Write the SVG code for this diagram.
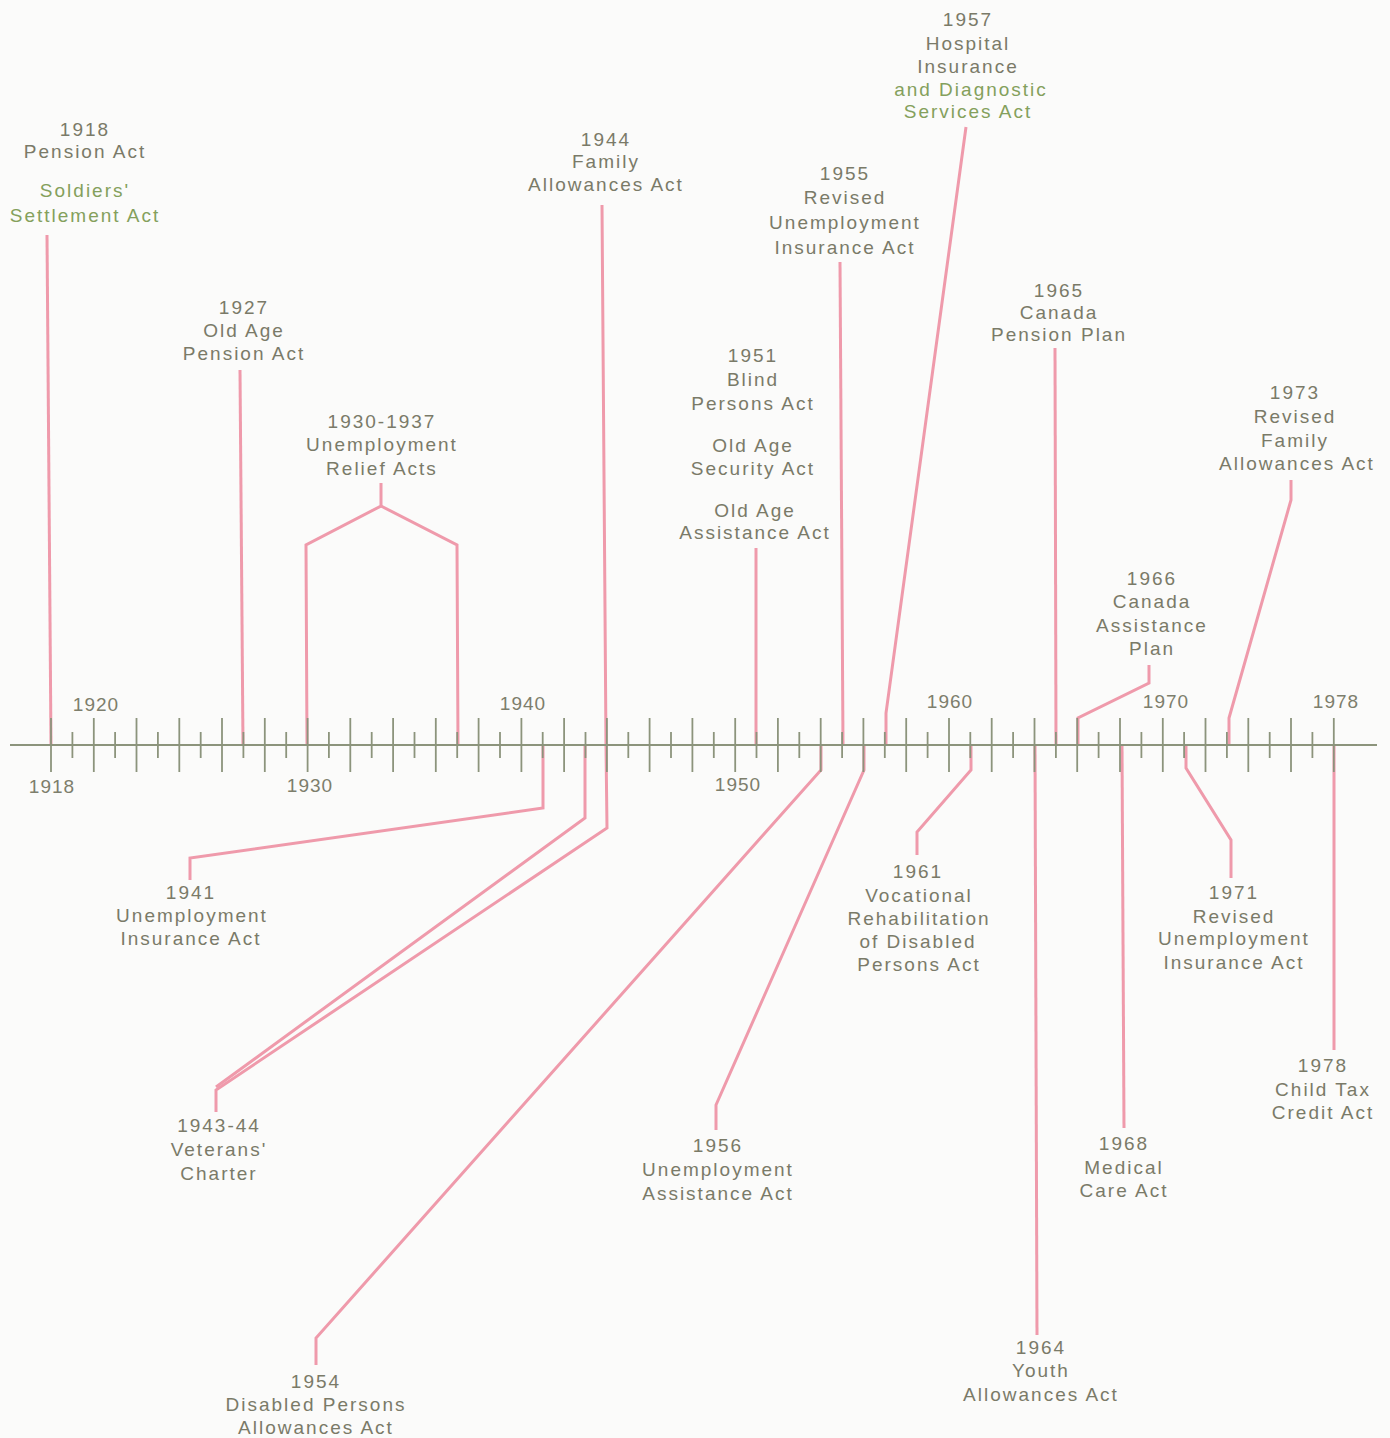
<svg xmlns="http://www.w3.org/2000/svg" width="1390" height="1438" viewBox="0 0 1390 1438">
  <style>
    .t { font-family: "Liberation Sans", Arial, sans-serif; font-size: 19px; letter-spacing: 2px; fill: #7a7a68; text-anchor: middle; }
    .g { fill: #84a05c; }
    .yr { font-family: "Liberation Sans", Arial, sans-serif; font-size: 19px; letter-spacing: 1px; fill: #7d7e6c; text-anchor: middle; }
    .c { fill: none; stroke: #ef9aab; stroke-width: 3; stroke-linejoin: miter; }
    .ax { stroke: #8c947c; stroke-width: 2.2; }
    .tk { stroke: #8c947c; stroke-width: 1.8; }
  </style>
  <rect width="1390" height="1438" fill="#fbfbfa"/>

  <!-- connectors from each act to its year -->
  <g id="connectors">
    <polyline class="c" points="47,235 51,745"/>
    <polyline class="c" points="240,370 243,745"/>
    <polyline class="c" points="381,483 381,506 306,545 307,745"/>
    <polyline class="c" points="381,506 457,545 458,745"/>
    <polyline class="c" points="602,205 606,745 607,828 216,1090 216,1112"/>
    <polyline class="c" points="585,745 585,818 216,1087"/>
    <polyline class="c" points="543,745 543,808 190,858 190,880"/>
    <polyline class="c" points="756,548 756,745"/>
    <polyline class="c" points="840,262 843,745"/>
    <polyline class="c" points="966,127 886,713 886,745"/>
    <polyline class="c" points="821,745 821,770 316,1338 316,1365"/>
    <polyline class="c" points="864,745 864,770 716,1105 716,1130"/>
    <polyline class="c" points="971,745 971,770 917,832 917,855"/>
    <polyline class="c" points="1035,745 1037,1335"/>
    <polyline class="c" points="1055,348 1056,745"/>
    <polyline class="c" points="1149,665 1149,683 1078,718 1078,745"/>
    <polyline class="c" points="1122,745 1124,1128"/>
    <polyline class="c" points="1186,745 1186,768 1231,840 1231,878"/>
    <polyline class="c" points="1291,480 1291,500 1229,718 1229,745"/>
    <polyline class="c" points="1334,745 1334,1050"/>
  </g>

  <!-- time axis with yearly ticks -->
  <g id="axis">
    <line class="ax" x1="10" y1="745" x2="1377" y2="745"/>
    <g id="ticks">
      <line class="tk" x1="51" y1="718" x2="51" y2="772"/>
      <line class="tk" x1="72.4" y1="732" x2="72.4" y2="758"/>
      <line class="tk" x1="93.8" y1="718" x2="93.8" y2="772"/>
      <line class="tk" x1="115.1" y1="732" x2="115.1" y2="758"/>
      <line class="tk" x1="136.5" y1="718" x2="136.5" y2="772"/>
      <line class="tk" x1="157.9" y1="732" x2="157.9" y2="758"/>
      <line class="tk" x1="179.3" y1="718" x2="179.3" y2="772"/>
      <line class="tk" x1="200.7" y1="732" x2="200.7" y2="758"/>
      <line class="tk" x1="222" y1="718" x2="222" y2="772"/>
      <line class="tk" x1="243.4" y1="732" x2="243.4" y2="758"/>
      <line class="tk" x1="264.8" y1="718" x2="264.8" y2="772"/>
      <line class="tk" x1="286.2" y1="732" x2="286.2" y2="758"/>
      <line class="tk" x1="307.6" y1="718" x2="307.6" y2="772"/>
      <line class="tk" x1="328.9" y1="732" x2="328.9" y2="758"/>
      <line class="tk" x1="350.3" y1="718" x2="350.3" y2="772"/>
      <line class="tk" x1="371.7" y1="732" x2="371.7" y2="758"/>
      <line class="tk" x1="393.1" y1="718" x2="393.1" y2="772"/>
      <line class="tk" x1="414.5" y1="732" x2="414.5" y2="758"/>
      <line class="tk" x1="435.8" y1="718" x2="435.8" y2="772"/>
      <line class="tk" x1="457.2" y1="732" x2="457.2" y2="758"/>
      <line class="tk" x1="478.6" y1="718" x2="478.6" y2="772"/>
      <line class="tk" x1="500" y1="732" x2="500" y2="758"/>
      <line class="tk" x1="521.4" y1="718" x2="521.4" y2="772"/>
      <line class="tk" x1="542.7" y1="732" x2="542.7" y2="758"/>
      <line class="tk" x1="564.1" y1="718" x2="564.1" y2="772"/>
      <line class="tk" x1="585.5" y1="732" x2="585.5" y2="758"/>
      <line class="tk" x1="606.9" y1="718" x2="606.9" y2="772"/>
      <line class="tk" x1="628.3" y1="732" x2="628.3" y2="758"/>
      <line class="tk" x1="649.6" y1="718" x2="649.6" y2="772"/>
      <line class="tk" x1="671" y1="732" x2="671" y2="758"/>
      <line class="tk" x1="692.4" y1="718" x2="692.4" y2="772"/>
      <line class="tk" x1="713.8" y1="732" x2="713.8" y2="758"/>
      <line class="tk" x1="735.2" y1="718" x2="735.2" y2="772"/>
      <line class="tk" x1="756.5" y1="732" x2="756.5" y2="758"/>
      <line class="tk" x1="777.9" y1="718" x2="777.9" y2="772"/>
      <line class="tk" x1="799.3" y1="732" x2="799.3" y2="758"/>
      <line class="tk" x1="820.7" y1="718" x2="820.7" y2="772"/>
      <line class="tk" x1="842.1" y1="732" x2="842.1" y2="758"/>
      <line class="tk" x1="863.4" y1="718" x2="863.4" y2="772"/>
      <line class="tk" x1="884.8" y1="732" x2="884.8" y2="758"/>
      <line class="tk" x1="906.2" y1="718" x2="906.2" y2="772"/>
      <line class="tk" x1="927.6" y1="732" x2="927.6" y2="758"/>
      <line class="tk" x1="949" y1="718" x2="949" y2="772"/>
      <line class="tk" x1="970.3" y1="732" x2="970.3" y2="758"/>
      <line class="tk" x1="991.7" y1="718" x2="991.7" y2="772"/>
      <line class="tk" x1="1013.1" y1="732" x2="1013.1" y2="758"/>
      <line class="tk" x1="1034.5" y1="718" x2="1034.5" y2="772"/>
      <line class="tk" x1="1055.9" y1="732" x2="1055.9" y2="758"/>
      <line class="tk" x1="1077.2" y1="718" x2="1077.2" y2="772"/>
      <line class="tk" x1="1098.6" y1="732" x2="1098.6" y2="758"/>
      <line class="tk" x1="1120" y1="718" x2="1120" y2="772"/>
      <line class="tk" x1="1141.4" y1="732" x2="1141.4" y2="758"/>
      <line class="tk" x1="1162.8" y1="718" x2="1162.8" y2="772"/>
      <line class="tk" x1="1184.1" y1="732" x2="1184.1" y2="758"/>
      <line class="tk" x1="1205.5" y1="718" x2="1205.5" y2="772"/>
      <line class="tk" x1="1226.9" y1="732" x2="1226.9" y2="758"/>
      <line class="tk" x1="1248.3" y1="718" x2="1248.3" y2="772"/>
      <line class="tk" x1="1269.7" y1="732" x2="1269.7" y2="758"/>
      <line class="tk" x1="1291" y1="718" x2="1291" y2="772"/>
      <line class="tk" x1="1312.4" y1="732" x2="1312.4" y2="758"/>
      <line class="tk" x1="1333.8" y1="718" x2="1333.8" y2="772"/>
    </g>
    <text class="yr" x="96" y="711">1920</text>
    <text class="yr" x="523" y="710">1940</text>
    <text class="yr" x="950" y="708">1960</text>
    <text class="yr" x="1166" y="708">1970</text>
    <text class="yr" x="1336" y="708">1978</text>
    <text class="yr" x="52" y="793">1918</text>
    <text class="yr" x="310" y="792">1930</text>
    <text class="yr" x="738" y="791">1950</text>
  </g>

  <!-- acts above the axis -->
  <g id="n1918">
    <text class="t" x="85" y="136">1918</text>
    <text class="t" x="85" y="158">Pension Act</text>
    <text class="t g" x="85" y="197">Soldiers'</text>
    <text class="t g" x="85" y="222">Settlement Act</text>
  </g>
  <g id="n1927">
    <text class="t" x="244" y="314">1927</text>
    <text class="t" x="244" y="337">Old Age</text>
    <text class="t" x="244" y="360">Pension Act</text>
  </g>
  <g id="n1930">
    <text class="t" x="382" y="428">1930-1937</text>
    <text class="t" x="382" y="451">Unemployment</text>
    <text class="t" x="382" y="475">Relief Acts</text>
  </g>
  <g id="n1944">
    <text class="t" x="606" y="146">1944</text>
    <text class="t" x="606" y="168">Family</text>
    <text class="t" x="606" y="191">Allowances Act</text>
  </g>
  <g id="n1951">
    <text class="t" x="753" y="362">1951</text>
    <text class="t" x="753" y="386">Blind</text>
    <text class="t" x="753" y="410">Persons Act</text>
    <text class="t" x="753" y="452">Old Age</text>
    <text class="t" x="753" y="475">Security Act</text>
    <text class="t" x="755" y="517">Old Age</text>
    <text class="t" x="755" y="539">Assistance Act</text>
  </g>
  <g id="n1955">
    <text class="t" x="845" y="180">1955</text>
    <text class="t" x="845" y="204">Revised</text>
    <text class="t" x="845" y="229">Unemployment</text>
    <text class="t" x="845" y="254">Insurance Act</text>
  </g>
  <g id="n1957">
    <text class="t" x="968" y="26">1957</text>
    <text class="t" x="968" y="50">Hospital</text>
    <text class="t" x="968" y="73">Insurance</text>
    <text class="t g" x="971" y="96">and Diagnostic</text>
    <text class="t g" x="968" y="118">Services Act</text>
  </g>
  <g id="n1965">
    <text class="t" x="1059" y="297">1965</text>
    <text class="t" x="1059" y="319">Canada</text>
    <text class="t" x="1059" y="341">Pension Plan</text>
  </g>
  <g id="n1966">
    <text class="t" x="1152" y="585">1966</text>
    <text class="t" x="1152" y="608">Canada</text>
    <text class="t" x="1152" y="632">Assistance</text>
    <text class="t" x="1152" y="655">Plan</text>
  </g>
  <g id="n1973">
    <text class="t" x="1295" y="399">1973</text>
    <text class="t" x="1295" y="423">Revised</text>
    <text class="t" x="1295" y="447">Family</text>
    <text class="t" x="1297" y="470">Allowances Act</text>
  </g>

  <!-- acts below the axis -->
  <g id="n1941">
    <text class="t" x="191" y="899">1941</text>
    <text class="t" x="192" y="922">Unemployment</text>
    <text class="t" x="191" y="945">Insurance Act</text>
  </g>
  <g id="n1943">
    <text class="t" x="219" y="1132">1943-44</text>
    <text class="t" x="219" y="1156">Veterans'</text>
    <text class="t" x="219" y="1180">Charter</text>
  </g>
  <g id="n1954">
    <text class="t" x="316" y="1388">1954</text>
    <text class="t" x="316" y="1411">Disabled Persons</text>
    <text class="t" x="316" y="1434">Allowances Act</text>
  </g>
  <g id="n1956">
    <text class="t" x="718" y="1152">1956</text>
    <text class="t" x="718" y="1176">Unemployment</text>
    <text class="t" x="718" y="1200">Assistance Act</text>
  </g>
  <g id="n1961">
    <text class="t" x="918" y="878">1961</text>
    <text class="t" x="919" y="902">Vocational</text>
    <text class="t" x="919" y="925">Rehabilitation</text>
    <text class="t" x="918" y="948">of Disabled</text>
    <text class="t" x="919" y="971">Persons Act</text>
  </g>
  <g id="n1964">
    <text class="t" x="1041" y="1354">1964</text>
    <text class="t" x="1041" y="1377">Youth</text>
    <text class="t" x="1041" y="1401">Allowances Act</text>
  </g>
  <g id="n1968">
    <text class="t" x="1124" y="1150">1968</text>
    <text class="t" x="1124" y="1174">Medical</text>
    <text class="t" x="1124" y="1197">Care Act</text>
  </g>
  <g id="n1971">
    <text class="t" x="1234" y="899">1971</text>
    <text class="t" x="1234" y="923">Revised</text>
    <text class="t" x="1234" y="945">Unemployment</text>
    <text class="t" x="1234" y="969">Insurance Act</text>
  </g>
  <g id="n1978">
    <text class="t" x="1323" y="1072">1978</text>
    <text class="t" x="1323" y="1096">Child Tax</text>
    <text class="t" x="1323" y="1119">Credit Act</text>
  </g>
</svg>
